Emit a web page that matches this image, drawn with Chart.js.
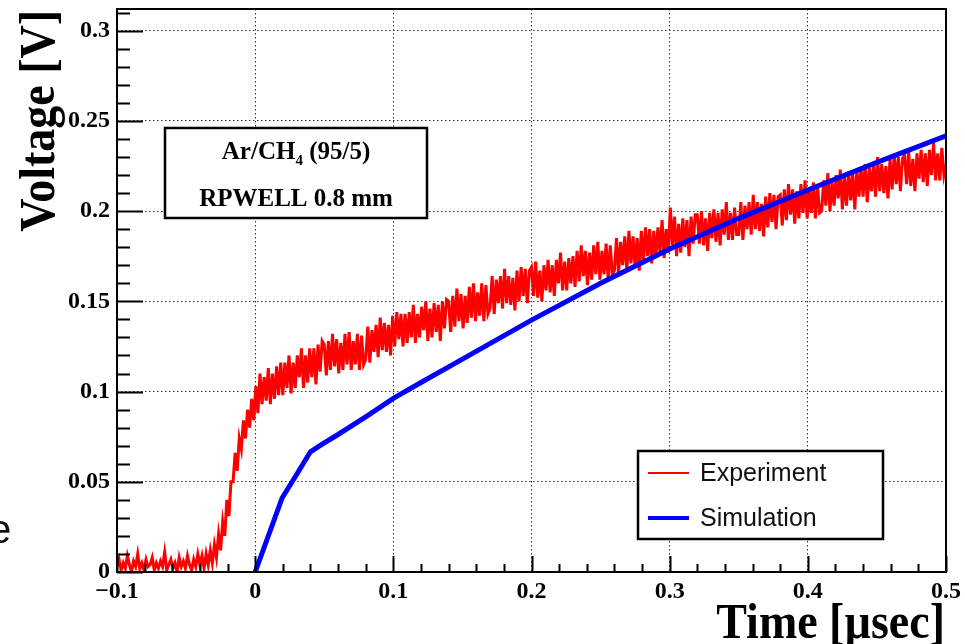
<!DOCTYPE html>
<html>
<head>
<meta charset="utf-8">
<script src="https://cdn.jsdelivr.net/npm/chart.js@4.4.1/dist/chart.umd.min.js"></script>
<style>
  html, body { margin: 0; padding: 0; background: #fff; }
  #wrap { width: 965px; height: 644px; position: relative; }
</style>
</head>
<body>
<div id="wrap"><canvas id="c" width="965" height="644"></canvas></div>
<script>
// scope trace: one sample every 1.5 ns starting at -0.1 us
const expStart = -0.1;
const expStep = 0.0015;
const expVolts = [
  0.003,0.007,0.001,0.005,0.002,0.009,0.004,0.000,0.006,0.003,0.010,0.002,0.005,0.001,0.007,0.003,0.004,0.008,0.001,0.005,
  0.002,0.006,0.003,0.011,0.001,0.004,0.007,0.002,0.005,0.000,0.008,0.003,0.006,0.002,0.009,0.004,0.001,0.007,0.003,0.010,
  0.004,0.009,0.002,0.010,0.004,0.012,0.005,0.015,0.008,0.021,0.012,0.028,0.020,0.040,0.031,0.050,0.050,0.066,0.056,0.074,
  0.068,0.084,0.074,0.090,0.080,0.096,0.084,0.103,0.088,0.110,0.093,0.108,0.095,0.113,0.093,0.110,0.096,0.114,0.098,0.116,
  0.098,0.116,0.102,0.120,0.099,0.116,0.102,0.120,0.108,0.124,0.102,0.120,0.105,0.124,0.108,0.124,0.104,0.126,0.111,0.128,
  0.126,0.109,0.128,0.112,0.132,0.114,0.129,0.110,0.127,0.112,0.132,0.115,0.133,0.112,0.128,0.115,0.132,0.112,0.131,0.115,
  0.118,0.136,0.116,0.134,0.122,0.137,0.119,0.141,0.123,0.138,0.122,0.137,0.120,0.142,0.125,0.144,0.129,0.143,0.125,0.143,
  0.127,0.144,0.130,0.148,0.127,0.143,0.130,0.147,0.134,0.150,0.128,0.146,0.130,0.149,0.133,0.148,0.128,0.150,0.135,0.151,
  0.150,0.133,0.153,0.136,0.157,0.139,0.154,0.135,0.153,0.138,0.158,0.141,0.160,0.139,0.155,0.142,0.160,0.139,0.159,0.143,
  0.146,0.164,0.143,0.162,0.149,0.164,0.146,0.168,0.149,0.164,0.148,0.163,0.145,0.167,0.150,0.169,0.153,0.168,0.149,0.167,
  0.169,0.153,0.172,0.152,0.167,0.150,0.170,0.156,0.173,0.155,0.170,0.153,0.173,0.160,0.177,0.156,0.172,0.156,0.174,0.160,
  0.175,0.158,0.178,0.161,0.181,0.164,0.178,0.159,0.177,0.162,0.181,0.165,0.183,0.162,0.178,0.165,0.182,0.162,0.181,0.165,
  0.167,0.185,0.165,0.183,0.170,0.186,0.167,0.189,0.171,0.186,0.169,0.185,0.167,0.189,0.172,0.191,0.175,0.190,0.171,0.189,
  0.174,0.191,0.177,0.195,0.174,0.190,0.177,0.202,0.181,0.197,0.175,0.193,0.177,0.196,0.180,0.195,0.175,0.197,0.182,0.198,
  0.198,0.182,0.200,0.181,0.196,0.178,0.199,0.185,0.201,0.183,0.199,0.181,0.201,0.187,0.205,0.184,0.199,0.184,0.202,0.187,
  0.187,0.205,0.184,0.203,0.190,0.205,0.187,0.209,0.190,0.205,0.189,0.204,0.186,0.208,0.191,0.210,0.194,0.209,0.190,0.208,
  0.209,0.192,0.212,0.195,0.215,0.198,0.212,0.193,0.211,0.196,0.215,0.199,0.217,0.196,0.212,0.199,0.216,0.196,0.215,0.199,
  0.200,0.217,0.203,0.221,0.200,0.216,0.203,0.220,0.207,0.223,0.201,0.219,0.203,0.222,0.206,0.221,0.201,0.223,0.208,0.224,
  0.208,0.226,0.205,0.224,0.211,0.226,0.208,0.230,0.211,0.226,0.210,0.225,0.207,0.229,0.212,0.231,0.215,0.230,0.211,0.229,
  0.231,0.215,0.233,0.214,0.229,0.211,0.232,0.218,0.234,0.216,0.232,0.214,0.234,0.220,0.238,0.217,0.232,0.217,0.235,0.220,
  0.226
];

// simulated signal (us, V)
const simTimes = [0, 0.0195, 0.03, 0.04, 0.05, 0.06, 0.08, 0.1, 0.12, 0.15, 0.2, 0.25, 0.3, 0.35, 0.4, 0.45, 0.5];
const simVolts = [0, 0.041, 0.054, 0.0666, 0.0715, 0.0762, 0.086, 0.0962, 0.105, 0.118, 0.1396, 0.160, 0.179, 0.196, 0.2117, 0.227, 0.2417];

const xTicks = [-0.1, 0, 0.1, 0.2, 0.3, 0.4, 0.5];
const xTickLabels = ['\u22120.1', '0', '0.1', '0.2', '0.3', '0.4', '0.5'];
const yTicks = [0, 0.05, 0.1, 0.15, 0.2, 0.25, 0.3];
const yTickLabels = ['0', '0.05', '0.1', '0.15', '0.2', '0.25', '0.3'];

const expPoints = expVolts.map((v, i) => ({ x: expStart + i * expStep, y: v }));
const simPoints = simTimes.map((t, i) => ({ x: t, y: simVolts[i] }));

const serif = '"Liberation Serif", "DejaVu Serif", serif';
const sans = '"Liberation Sans", Arial, sans-serif';

// ROOT style frame, inward ticks, titles, text box and legend
const rootDecor = {
  id: 'rootDecor',
  afterDatasetsDraw(chart) {
    const { ctx, chartArea: a, scales } = chart;
    const xs = scales.x, ys = scales.y;
    ctx.save();

    // inward ticks
    ctx.strokeStyle = '#000';
    ctx.lineWidth = 2;
    ctx.beginPath();
    for (let k = 0; k <= 31; k++) {
      const py = Math.round(ys.getPixelForValue(k / 100)) + 0.5;
      const len = k % 5 === 0 ? 26 : 13;
      ctx.moveTo(a.left, py);
      ctx.lineTo(a.left + len, py);
    }
    for (let k = -5; k <= 25; k++) {
      const px = Math.round(xs.getPixelForValue(k * 0.02)) + 0.5;
      const len = k % 5 === 0 ? 16 : 8;
      ctx.moveTo(px, a.bottom);
      ctx.lineTo(px, a.bottom - len);
    }
    ctx.stroke();

    // frame
    ctx.lineWidth = 2;
    ctx.strokeRect(a.left, a.top, a.right - a.left, a.bottom - a.top);

    // axis titles
    ctx.fillStyle = '#000';
    ctx.font = 'bold 46px ' + serif;
    ctx.textAlign = 'right';
    ctx.textBaseline = 'alphabetic';
    ctx.save();
    ctx.translate(945, 638);
    ctx.scale(1, 1.1);
    ctx.fillText('Time [\u00b5sec]', 0, 0);
    ctx.restore();
    ctx.save();
    ctx.translate(54, 10);
    ctx.rotate(-Math.PI / 2);
    ctx.scale(1, 1.1);
    ctx.fillText('Voltage [V]', 0, 0);
    ctx.restore();

    // stray glyph at the left edge of the picture
    ctx.font = '40px ' + sans;
    ctx.textAlign = 'left';
    ctx.fillStyle = '#111';
    ctx.fillText('e', -11, 543);

    // gas / detector text box
    ctx.fillStyle = '#fff';
    ctx.fillRect(165, 128, 262, 90);
    ctx.strokeStyle = '#000';
    ctx.lineWidth = 2.5;
    ctx.strokeRect(165, 128, 262, 90);
    ctx.fillStyle = '#000';
    ctx.textBaseline = 'alphabetic';
    const big = 'bold 25px ' + serif, sub = 'bold 15px ' + serif;
    ctx.font = big;
    const w1 = ctx.measureText('Ar/CH').width;
    const w3 = ctx.measureText(' (95/5)').width;
    ctx.font = sub;
    const w2 = ctx.measureText('4').width;
    let tx = 296 - (w1 + w2 + w3) / 2;
    ctx.textAlign = 'left';
    ctx.font = big;
    ctx.fillText('Ar/CH', tx, 159);
    ctx.font = sub;
    ctx.fillText('4', tx + w1, 165);
    ctx.font = big;
    ctx.fillText(' (95/5)', tx + w1 + w2, 159);
    ctx.textAlign = 'center';
    ctx.fillText('RPWELL 0.8 mm', 296, 206);

    // legend
    ctx.fillStyle = '#fff';
    ctx.fillRect(638, 451, 245, 88);
    ctx.strokeStyle = '#000';
    ctx.lineWidth = 2.5;
    ctx.strokeRect(638, 451, 245, 88);
    const rows = [473, 518];
    chart.data.datasets.forEach((ds, i) => {
      ctx.strokeStyle = ds.borderColor;
      ctx.lineWidth = i === 0 ? 2 : 4;
      ctx.beginPath();
      ctx.moveTo(648, rows[i]);
      ctx.lineTo(689, rows[i]);
      ctx.stroke();
      ctx.fillStyle = '#111';
      ctx.font = '25px ' + sans;
      ctx.textAlign = 'left';
      ctx.textBaseline = 'middle';
      ctx.fillText(ds.label, 700, rows[i] + 1);
    });

    ctx.restore();
  }
};

new Chart(document.getElementById('c'), {
  type: 'scatter',
  data: {
    datasets: [
      { label: 'Experiment', data: expPoints, showLine: true, borderColor: '#ff0000', borderWidth: 3,
        pointRadius: 0, tension: 0, order: 2 },
      { label: 'Simulation', data: simPoints, showLine: true, borderColor: '#0000ff', borderWidth: 5,
        pointRadius: 0, tension: 0, order: 1 }
    ]
  },
  options: {
    responsive: false,
    animation: false,
    devicePixelRatio: 1,
    layout: { padding: { top: 9, right: 19, left: 0, bottom: 0 } },
    plugins: { legend: { display: false }, tooltip: { enabled: false } },
    scales: {
      x: {
        type: 'linear', min: -0.1, max: 0.5,
        afterFit(s) { s.height = 72; s.paddingLeft = 0; s.paddingRight = 0; },
        afterBuildTicks(s) { s.ticks = xTicks.map(v => ({ value: v })); },
        ticks: {
          callback: (v, i) => xTickLabels[i],
          font: { family: serif, size: 24, weight: 'bold' },
          color: '#000', padding: 5, maxRotation: 0, autoSkip: false
        },
        grid: { color: '#333', lineWidth: 1, drawTicks: false },
        border: { display: false, dash: [1.5, 2.5] }
      },
      y: {
        type: 'linear', min: 0, max: 0.312,
        afterFit(s) { s.width = 117; s.paddingTop = 0; s.paddingBottom = 0; },
        afterBuildTicks(s) { s.ticks = yTicks.map(v => ({ value: v })); },
        ticks: {
          callback: (v, i) => yTickLabels[i],
          font: { family: serif, size: 24, weight: 'bold' },
          color: '#000', padding: 7, autoSkip: false
        },
        grid: { color: '#333', lineWidth: 1, drawTicks: false },
        border: { display: false, dash: [1.5, 2.5] }
      }
    }
  },
  plugins: [rootDecor]
});
</script>
</body>
</html>
